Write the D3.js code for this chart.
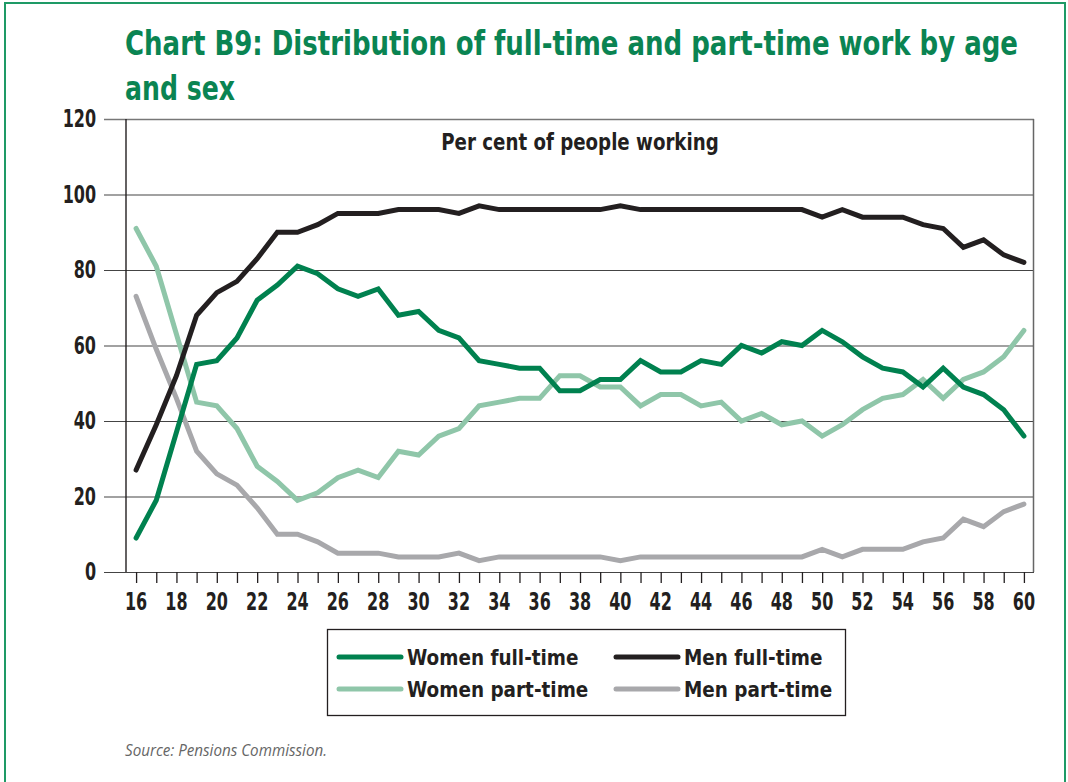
<!DOCTYPE html>
<html>
<head>
<meta charset="utf-8">
<script src="https://cdn.jsdelivr.net/npm/d3@7"></script>
<style>
  body { margin: 0; background: #fff; }
  svg { display: block; }
  .lbl { font-family: "Liberation Sans Narrow", "DejaVu Sans Condensed", sans-serif; font-weight: bold; }
</style>
</head>
<body>
<svg id="chart" width="1068" height="782"></svg>
<script>
const ages = d3.range(16, 61);
const yTicks = [0, 20, 40, 60, 80, 100, 120];
const xTickLabels = d3.range(16, 61, 2);

const womenFullTime = [9, 19, 37, 55, 56, 62, 72, 76, 81, 79, 75, 73, 75, 68, 69, 64, 62, 56, 55, 54, 54, 48, 48, 51, 51, 56, 53, 53, 56, 55, 60, 58, 61, 60, 64, 61, 57, 54, 53, 49, 54, 49, 47, 43, 36];
const menFullTime = [27, 39, 52, 68, 74, 77, 83, 90, 90, 92, 95, 95, 95, 96, 96, 96, 95, 97, 96, 96, 96, 96, 96, 96, 97, 96, 96, 96, 96, 96, 96, 96, 96, 96, 94, 96, 94, 94, 94, 92, 91, 86, 88, 84, 82];
const womenPartTime = [91, 81, 63, 45, 44, 38, 28, 24, 19, 21, 25, 27, 25, 32, 31, 36, 38, 44, 45, 46, 46, 52, 52, 49, 49, 44, 47, 47, 44, 45, 40, 42, 39, 40, 36, 39, 43, 46, 47, 51, 46, 51, 53, 57, 64];
const menPartTime = [73, 59, 46, 32, 26, 23, 17, 10, 10, 8, 5, 5, 5, 4, 4, 4, 5, 3, 4, 4, 4, 4, 4, 4, 3, 4, 4, 4, 4, 4, 4, 4, 4, 4, 6, 4, 6, 6, 6, 8, 9, 14, 12, 16, 18];

const seriesNames = ["Women full-time", "Men full-time", "Women part-time", "Men part-time"];
const seriesColors = ["#00814f", "#231f20", "#8fc6a9", "#a8a8ab"];
const seriesValues = [womenFullTime, menFullTime, womenPartTime, menPartTime];

const svg = d3.select("#chart");

// squeeze text horizontally to mimic the condensed face of the original
function squeeze(sel, factor) {
  sel.each(function() {
    const w = this.getComputedTextLength();
    d3.select(this)
      .attr("textLength", w * factor)
      .attr("lengthAdjust", "spacingAndGlyphs");
  });
}

// page frame
svg.append("rect")
  .attr("x", 5).attr("y", 3)
  .attr("width", 1060).attr("height", 800)
  .attr("fill", "none")
  .attr("stroke", "#1e9a66")
  .attr("stroke-width", 2);

// title
const titleLines = [
  { text: "Chart B9: Distribution of full-time and part-time work by age", y: 55, len: 893 },
  { text: "and sex", y: 100, len: 110 }
];
svg.selectAll(".title")
  .data(titleLines)
  .enter().append("text")
  .attr("class", "lbl title")
  .attr("transform", d => `translate(125,${d.y}) scale(1,1.25)`)
  .attr("font-size", 27)
  .attr("fill", "#0a8452")
  .attr("textLength", d => d.len)
  .attr("lengthAdjust", "spacingAndGlyphs")
  .text(d => d.text);

const x = d3.scaleLinear().domain([15.5, 60.5]).range([126, 1034]);
const y = d3.scaleLinear().domain([0, 120]).range([572, 119]);

// gridlines (with the left tick stubs)
svg.append("g")
  .attr("transform", "translate(126,0)")
  .call(d3.axisLeft(y).tickValues(yTicks).tickSize(22).tickFormat(""))
  .call(g => g.select(".domain").remove())
  .call(g => g.selectAll(".tick line")
    .attr("x1", -22)
    .attr("x2", 1034 - 126)
    .attr("stroke", d => d === 120 ? "#777" : "#444")
    .attr("stroke-width", d => d === 120 ? 1.6 : 1.1));

// y tick labels
svg.append("g")
  .selectAll("text")
  .data(yTicks)
  .enter().append("text")
  .attr("class", "lbl")
  .attr("x", 96)
  .attr("y", d => y(d) + 8)
  .attr("text-anchor", "end")
  .attr("font-size", 24)
  .attr("fill", "#231f20")
  .text(d => d)
  .call(squeeze, 0.74);

// frame: left axis, right edge
svg.append("line")
  .attr("x1", 126).attr("x2", 126)
  .attr("y1", 119).attr("y2", 572)
  .attr("stroke", "#231f20").attr("stroke-width", 1.4);
svg.append("line")
  .attr("x1", 1033.5).attr("x2", 1033.5)
  .attr("y1", 119).attr("y2", 572)
  .attr("stroke", "#666").attr("stroke-width", 1.5);

// x ticks
svg.append("g")
  .attr("transform", "translate(0,572)")
  .call(d3.axisBottom(x).tickValues(ages).tickSize(11).tickFormat(""))
  .call(g => g.select(".domain").remove())
  .call(g => g.selectAll(".tick line").attr("stroke", "#231f20").attr("stroke-width", 1.3));

svg.append("g")
  .selectAll("text")
  .data(xTickLabels)
  .enter().append("text")
  .attr("class", "lbl")
  .attr("x", d => x(d))
  .attr("y", 610)
  .attr("text-anchor", "middle")
  .attr("font-size", 24)
  .attr("fill", "#231f20")
  .text(d => d)
  .call(squeeze, 0.74);

// subtitle
svg.append("text")
  .attr("class", "lbl")
  .attr("x", 580)
  .attr("y", 150)
  .attr("text-anchor", "middle")
  .attr("font-size", 23)
  .attr("fill", "#231f20")
  .text("Per cent of people working")
  .call(squeeze, 0.88);

// lines
const line = d3.line()
  .x((d, i) => x(ages[i]))
  .y(d => y(d));

const drawOrder = [2, 3, 1, 0];
svg.append("g")
  .selectAll("path")
  .data(drawOrder)
  .enter().append("path")
  .attr("d", k => line(seriesValues[k]))
  .attr("fill", "none")
  .attr("stroke", k => seriesColors[k])
  .attr("stroke-width", 5)
  .attr("stroke-linecap", "round")
  .attr("stroke-linejoin", "miter");

// legend
svg.append("rect")
  .attr("x", 327.5).attr("y", 629.5)
  .attr("width", 518).attr("height", 86)
  .attr("fill", "#fff")
  .attr("stroke", "#231f20")
  .attr("stroke-width", 1.3);

const legend = svg.append("g")
  .selectAll("g")
  .data(seriesNames)
  .enter().append("g")
  .attr("transform", (d, i) => `translate(${i % 2 === 0 ? 337 : 614},${i < 2 ? 657 : 689})`);

legend.append("line")
  .attr("x1", 2).attr("x2", 64)
  .attr("stroke", (d, i) => seriesColors[i])
  .attr("stroke-width", 5)
  .attr("stroke-linecap", "round");

legend.append("text")
  .attr("class", "lbl")
  .attr("x", 70)
  .attr("y", 8)
  .attr("font-size", 22)
  .attr("fill", "#231f20")
  .text(d => d)
  .call(squeeze, 0.93);

// source
svg.append("text")
  .attr("x", 125)
  .attr("y", 756)
  .attr("font-family", "'Open Sans', 'DejaVu Sans', sans-serif")
  .attr("font-style", "italic")
  .attr("font-size", 15.5)
  .attr("fill", "#666")
  .attr("textLength", 202)
  .attr("lengthAdjust", "spacingAndGlyphs")
  .text("Source: Pensions Commission.");
</script>
</body>
</html>
